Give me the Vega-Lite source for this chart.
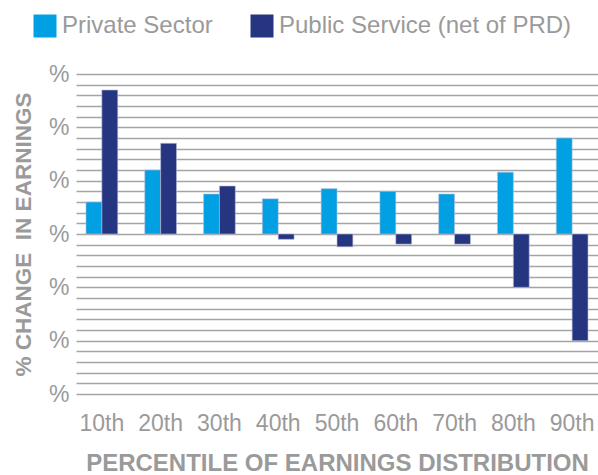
{
  "$schema": "https://vega.github.io/schema/vega-lite/v6.json",
  "autosize": "none",
  "padding": {"left": 76, "top": 74, "right": 0, "bottom": 81},
  "width": 522,
  "height": 320,
  "background": "white",
  "config": {
    "font": "Liberation Sans",
    "view": {"stroke": null}
  },
  "data": {
    "values": [
      {"pct": "10th", "series": "Private Sector", "value": 3.0},
      {"pct": "10th", "series": "Public Service (net of PRD)", "value": 13.5},
      {"pct": "20th", "series": "Private Sector", "value": 6.0},
      {"pct": "20th", "series": "Public Service (net of PRD)", "value": 8.5},
      {"pct": "30th", "series": "Private Sector", "value": 3.75},
      {"pct": "30th", "series": "Public Service (net of PRD)", "value": 4.5},
      {"pct": "40th", "series": "Private Sector", "value": 3.3},
      {"pct": "40th", "series": "Public Service (net of PRD)", "value": -0.5},
      {"pct": "50th", "series": "Private Sector", "value": 4.25},
      {"pct": "50th", "series": "Public Service (net of PRD)", "value": -1.2},
      {"pct": "60th", "series": "Private Sector", "value": 4.0},
      {"pct": "60th", "series": "Public Service (net of PRD)", "value": -0.95},
      {"pct": "70th", "series": "Private Sector", "value": 3.75},
      {"pct": "70th", "series": "Public Service (net of PRD)", "value": -0.95},
      {"pct": "80th", "series": "Private Sector", "value": 5.8},
      {"pct": "80th", "series": "Public Service (net of PRD)", "value": -5.0},
      {"pct": "90th", "series": "Private Sector", "value": 9.0},
      {"pct": "90th", "series": "Public Service (net of PRD)", "value": -10.0}
    ]
  },
  "mark": {"type": "bar", "stroke": "#b8bcd8", "strokeWidth": 0.6},
  "encoding": {
    "x": {
      "field": "pct",
      "type": "nominal",
      "sort": null,
      "scale": {"paddingInner": 0.46, "paddingOuter": 0.17},
      "axis": {
        "title": "PERCENTILE OF EARNINGS DISTRIBUTION",
        "titleFontSize": 24,
        "titleFontWeight": "bold",
        "titleColor": "#9a9a9a",
        "titlePadding": 16,
        "labelAngle": 0,
        "labelFontSize": 23,
        "labelColor": "#9a9a9a",
        "labelPadding": 18,
        "ticks": false,
        "domain": false,
        "grid": false
      }
    },
    "xOffset": {"field": "series", "type": "nominal", "scale": {"paddingInner": 0}},
    "y": {
      "field": "value",
      "type": "quantitative",
      "scale": {"domain": [-15, 15], "nice": false},
      "axis": {
        "title": "% CHANGE\u00a0 IN EARNINGS",
        "titleFontSize": 22.5,
        "titleFontWeight": "bold",
        "titleColor": "#9a9a9a",
        "titlePadding": 13,
        "values": [-15,-14,-13,-12,-11,-10,-9,-8,-7,-6,-5,-4,-3,-2,-1,0,1,2,3,4,5,6,7,8,9,10,11,12,13,14,15],
        "labelExpr": "datum.value % 5 === 0 ? '%' : ''",
        "labelFontSize": 23,
        "labelColor": "#9a9a9a",
        "labelPadding": 7,
        "ticks": false,
        "domain": false,
        "grid": true,
        "gridColor": "#a4a4a4",
        "gridWidth": 1.7,
        "zindex": 0
      }
    },
    "color": {
      "field": "series",
      "type": "nominal",
      "scale": {"domain": ["Private Sector", "Public Service (net of PRD)"], "range": ["#00A0E2", "#263580"]},
      "legend": {
        "title": null,
        "orient": "none",
        "direction": "horizontal",
        "legendX": -43,
        "legendY": -60,
        "symbolType": "square",
        "symbolSize": 529,
        "symbolStrokeWidth": 0,
        "labelFontSize": 24,
        "labelColor": "#9a9a9a",
        "labelOffset": 5,
        "labelLimit": 400,
        "columnPadding": 37
      }
    }
  }
}
